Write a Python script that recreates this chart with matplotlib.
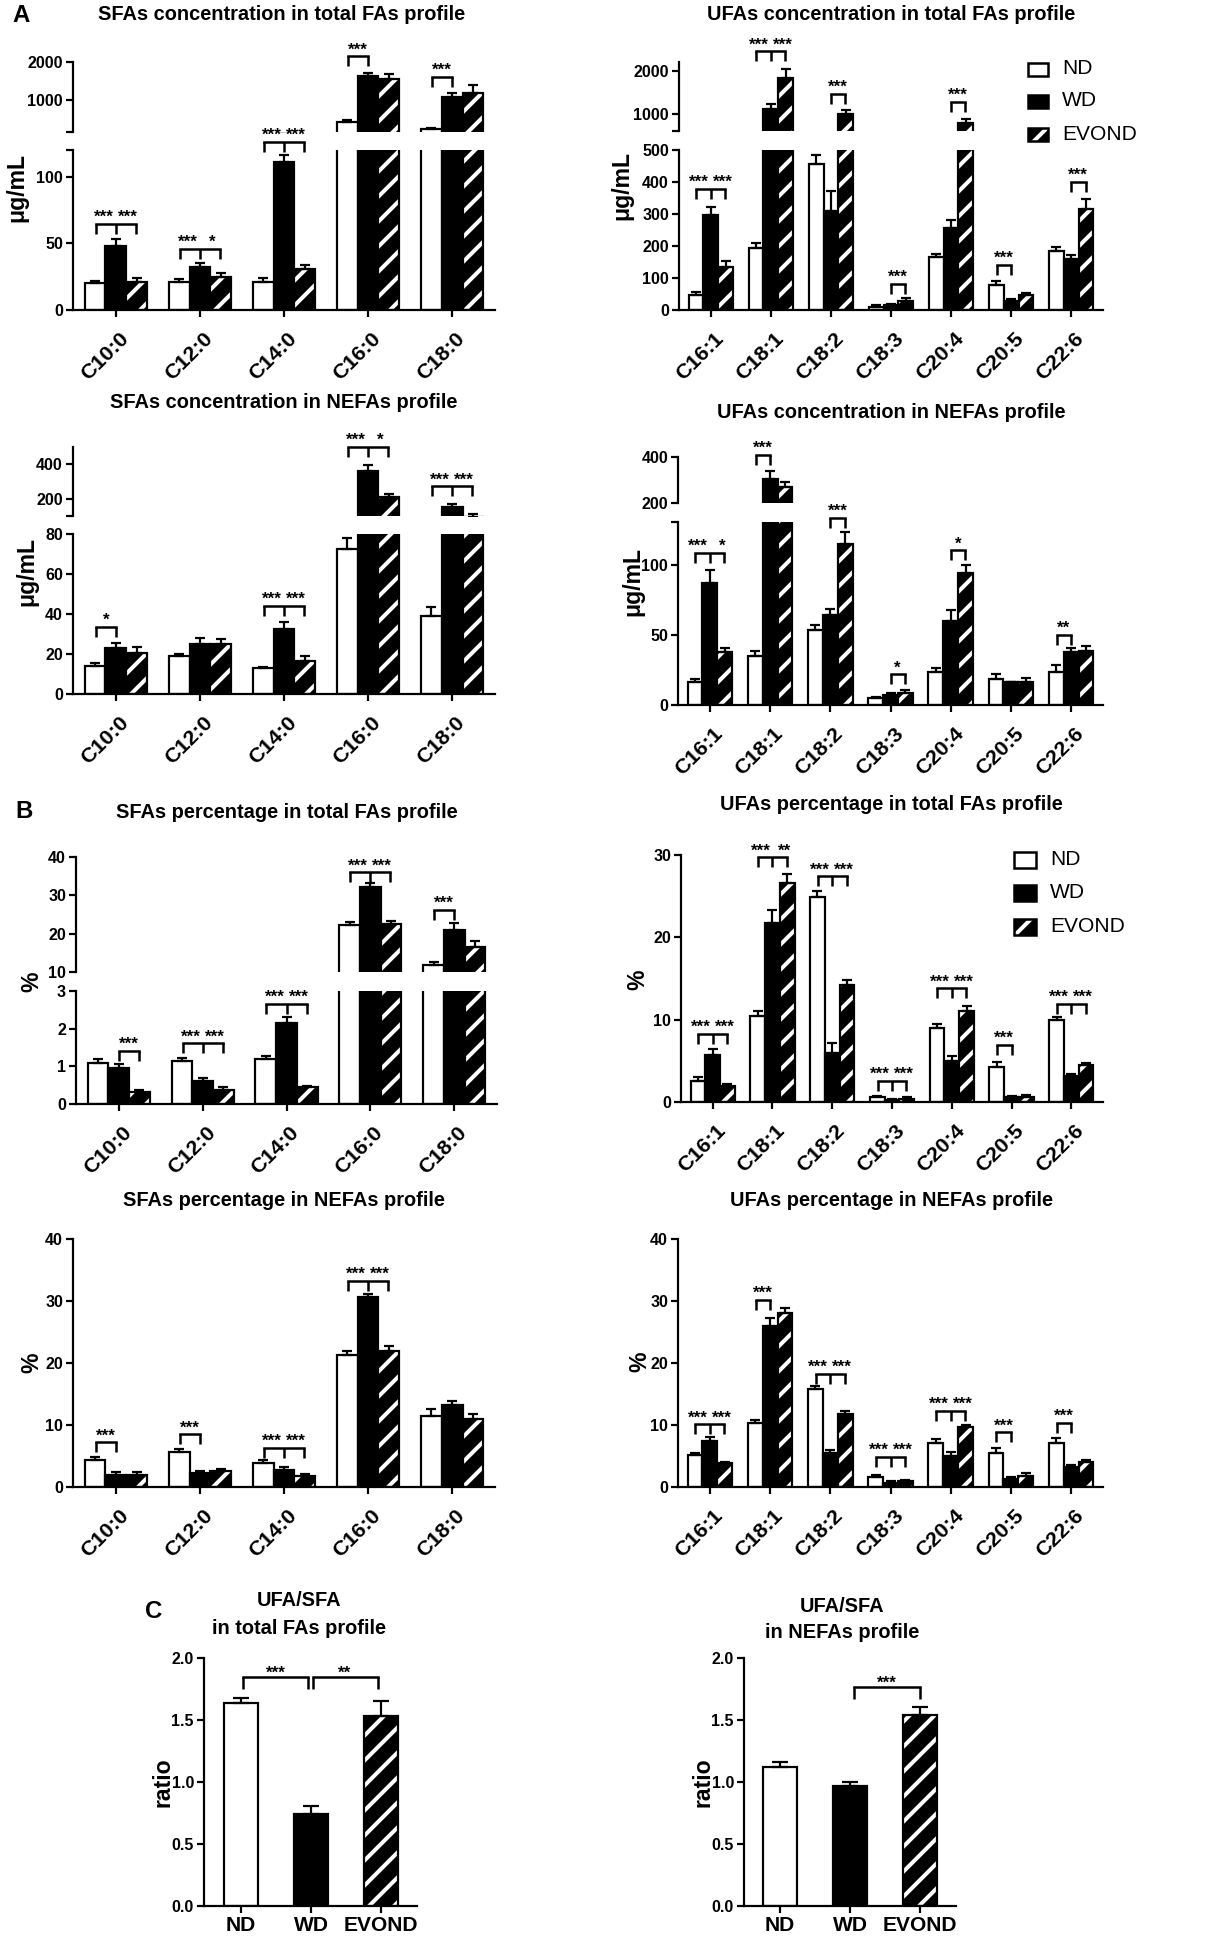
import numpy as np
import matplotlib
matplotlib.use('Agg')
import matplotlib.pyplot as plt
from matplotlib.patches import Rectangle
from matplotlib.transforms import ScaledTranslation

W, H, DPI = 1230, 1943, 75


def P(px):
    # size in pixels -> points at this dpi
    return px * 72.0 / DPI


plt.rcParams['font.family'] = ['Liberation Sans', 'DejaVu Sans']
plt.rcParams['font.weight'] = 'bold'
plt.rcParams['hatch.linewidth'] = P(4)
plt.rcParams['axes.linewidth'] = P(2.2)

groups = ['ND', 'WD', 'EVOND']
sfa = ['C10:0', 'C12:0', 'C14:0', 'C16:0', 'C18:0']
ufa = ['C16:1', 'C18:1', 'C18:2', 'C18:3', 'C20:4', 'C20:5', 'C22:6']

# (A) concentration, ug/mL ; rows = fatty acid, columns = ND, WD, EVOND
sfa_tot_mean = [[20, 48, 21], [21, 32, 25], [21, 111, 31], [425, 1619, 1549], [248, 1071, 1195]]
sfa_tot_sem = [[2, 5, 3], [2, 3.5, 3], [3, 5, 3], [62, 89, 141], [26, 106, 203]]
ufa_tot_mean = [[47, 297, 135], [193, 1100, 1831], [455, 309, 985], [10, 15, 29],
                [165, 255, 777], [78, 28, 47], [184, 158, 315]]
ufa_tot_sem = [[10, 24, 18], [15, 115, 207], [29, 63, 92], [5, 4, 9],
               [10, 26, 108], [14, 6, 5], [12, 14, 31]]
sfa_nefa_mean = [[14, 23, 20.7], [19, 24.8, 24.8], [12.8, 32.3, 16.5], [72.3, 361, 210], [39, 152, 95]]
sfa_nefa_sem = [[1.3, 2.7, 2.6], [1, 3, 2.7], [0.9, 3.5, 2.5], [5.9, 33, 19], [4.3, 19, 15]]
ufa_nefa_mean = [[16.7, 87.4, 37.6], [35, 304, 268], [54, 64.3, 115], [4.8, 7.1, 8.8],
                 [23.3, 60.2, 94.5], [18.6, 16.2, 16.7], [23.8, 38, 38.8]]
ufa_nefa_sem = [[1.9, 9.5, 3.4], [3.8, 33, 25], [3.6, 4.7, 9], [1.2, 1.2, 1.9],
                [2.9, 7.7, 6], [3.4, 0.5, 2.8], [4.8, 2.5, 3.6]]

# (B) percentage
sfa_tot_pct = [[1.08, 0.95, 0.32], [1.14, 0.60, 0.38], [1.19, 2.16, 0.45], [22.2, 32.2, 22.4], [11.9, 21.0, 16.4]]
sfa_tot_pct_sem = [[0.11, 0.11, 0.04], [0.09, 0.09, 0.07], [0.09, 0.14, 0.04], [0.8, 1.0, 0.9], [0.6, 1.9, 1.8]]
ufa_tot_pct = [[2.6, 5.7, 1.9], [10.4, 21.8, 26.6], [24.9, 6.0, 14.2], [0.57, 0.28, 0.4],
               [9.0, 5.0, 11.1], [4.2, 0.6, 0.6], [9.9, 3.1, 4.5]]
ufa_tot_pct_sem = [[0.4, 0.7, 0.3], [0.7, 1.5, 1.1], [0.7, 1.2, 0.6], [0.2, 0.12, 0.17],
                   [0.5, 0.6, 0.6], [0.6, 0.17, 0.2], [0.4, 0.3, 0.2]]
sfa_nefa_pct = [[4.4, 2.0, 2.0], [5.6, 2.25, 2.6], [3.9, 2.8, 1.8], [21.3, 30.6, 22.0], [11.5, 13.2, 11.0]]
sfa_nefa_pct_sem = [[0.5, 0.4, 0.4], [0.6, 0.35, 0.35], [0.5, 0.4, 0.35], [0.7, 0.5, 0.8], [1.1, 0.7, 0.8]]
ufa_nefa_pct = [[5.1, 7.4, 3.9], [10.3, 26.0, 28.1], [15.8, 5.5, 11.8], [1.55, 0.65, 0.9],
                [7.1, 5.0, 9.6], [5.5, 1.3, 1.8], [7.1, 3.2, 4.0]]
ufa_nefa_pct_sem = [[0.4, 0.65, 0.2], [0.5, 1.2, 0.8], [0.5, 0.4, 0.5], [0.45, 0.25, 0.3],
                    [0.6, 0.6, 0.4], [0.8, 0.3, 0.45], [0.8, 0.4, 0.3]]

# (C) UFA/SFA ratio
ratio_tot = [1.64, 0.743, 1.53]
ratio_tot_sem = [0.04, 0.06, 0.12]
ratio_nefa = [1.117, 0.964, 1.537]
ratio_nefa_sem = [0.045, 0.036, 0.065]

# significance marks: (category, comparison, bracket height, labels, segment)
sig_a1 = [(0, 'both', 64.5, ['***', '***'], 'lo'), (1, 'both', 46, ['***', '*'], 'lo'),
          (2, 'both', 126, ['***', '***'], 'lo'), (3, 'left', 2150, ['***'], 'hi'),
          (4, 'left', 1600, ['***'], 'hi')]
sig_a2 = [(0, 'both', 378, ['***', '***'], 'lo'), (1, 'both', 2446, ['***', '***'], 'hi'),
          (2, 'right', 1461, ['***'], 'hi'), (3, 'right', 81, ['***'], 'lo'),
          (4, 'right', 1269, ['***'], 'hi'), (5, 'left', 141, ['***'], 'lo'),
          (6, 'right', 401, ['***'], 'lo')]
sig_a3 = [(0, 'left', 33.7, ['*'], 'lo'), (2, 'both', 44, ['***', '***'], 'lo'),
          (3, 'both', 501, ['***', '*'], 'hi'), (4, 'both', 272, ['***', '***'], 'hi')]
sig_a4 = [(0, 'both', 109, ['***', '*'], 'lo'), (1, 'left', 410, ['***'], 'hi'),
          (2, 'right', 134, ['***'], 'lo'), (3, 'right', 21.9, ['*'], 'lo'),
          (4, 'right', 110.7, ['*'], 'lo'), (6, 'left', 50, ['**'], 'lo')]
sig_b1 = [(0, 'right', 1.42, ['***'], 'lo'), (1, 'both', 1.61, ['***', '***'], 'lo'),
          (2, 'both', 2.66, ['***', '***'], 'lo'), (3, 'both', 36.0, ['***', '***'], 'hi'),
          (4, 'left', 26.3, ['***'], 'hi')]
sig_b2 = [(0, 'both', 8.3, ['***', '***'], 'lo'), (1, 'both', 29.7, ['***', '**'], 'lo'),
          (2, 'both', 27.4, ['***', '***'], 'lo'), (3, 'both', 2.6, ['***', '***'], 'lo'),
          (4, 'both', 13.8, ['***', '***'], 'lo'), (5, 'left', 6.9, ['***'], 'lo'),
          (6, 'both', 11.9, ['***', '***'], 'lo')]
sig_b3 = [(0, 'left', 7.2, ['***'], 'lo'), (1, 'left', 8.5, ['***'], 'lo'),
          (2, 'both', 6.3, ['***', '***'], 'lo'), (3, 'both', 33.3, ['***', '***'], 'lo')]
sig_b4 = [(0, 'both', 10.1, ['***', '***'], 'lo'), (1, 'left', 30.2, ['***'], 'lo'),
          (2, 'both', 18.2, ['***', '***'], 'lo'), (3, 'both', 4.8, ['***', '***'], 'lo'),
          (4, 'both', 12.3, ['***', '***'], 'lo'), (5, 'left', 8.8, ['***'], 'lo'),
          (6, 'left', 10.3, ['***'], 'lo')]

fig = plt.figure(figsize=(W / DPI, H / DPI), dpi=DPI)
BW = 0.247
LW = P(2.2)
STAR = 17


def box(x0, y0, x1, y1):
    return [x0 / W, 1 - y1 / H, (x1 - x0) / W, (y1 - y0) / H]


def ftext(x, y, s, **kw):
    fig.text(x / W, 1 - y / H, s, **kw)


def style(ax, bottom=True):
    ax.spines['top'].set_visible(False)
    ax.spines['right'].set_visible(False)
    ax.set_facecolor('none')
    ax.tick_params(axis='both', direction='out', length=P(7), width=LW,
                   labelsize=P(16), pad=P(3))
    if not bottom:
        ax.spines['bottom'].set_visible(False)
        ax.tick_params(axis='x', bottom=False, labelbottom=False)


def draw_groups(ax, means, sems):
    means = np.array(means, float)
    sems = np.array(sems, float)
    x = np.arange(len(means))
    for g, off in enumerate([-BW, 0, BW]):
        xs = x + off
        if g == 0:
            ax.bar(xs, means[:, g], BW, color='white', edgecolor='black', linewidth=LW)
        elif g == 1:
            ax.bar(xs, means[:, g], BW, color='black', edgecolor='black', linewidth=LW)
        else:
            ax.bar(xs, means[:, g], BW, color='black', edgecolor='white', linewidth=0, hatch='/')
            ax.bar(xs, means[:, g], BW, color='none', edgecolor='black', linewidth=LW)
        ax.errorbar(xs, means[:, g], yerr=[np.zeros(len(xs)), sems[:, g]], fmt='none',
                    ecolor='black', elinewidth=LW, capsize=P(5), capthick=LW)


def per_px(ax):
    y0, y1 = ax.get_ylim()
    return (y1 - y0) / (ax.get_position().height * H)


def per_px_x(ax):
    x0, x1 = ax.get_xlim()
    return (x1 - x0) / (ax.get_position().width * W)


def bracket(ax, xs, x0, x1, y, leg=10, lw=2.5):
    d = per_px(ax)
    ax.plot([x0, x1], [y, y], color='black', lw=P(lw), clip_on=False, solid_capstyle='projecting')
    for xx in xs:
        ax.plot([xx, xx], [y, y - leg * d], color='black', lw=P(lw), clip_on=False,
                solid_capstyle='butt')


def stars(ax, x, y, s, dy=2, fs=STAR):
    ax.text(x, y + dy * per_px(ax), s, ha='center', va='baseline', fontsize=P(fs), clip_on=False)


def add_sig(axes, sig):
    for cat, kind, y, labels, seg in sig:
        ax = axes[seg]
        h = 0.24
        sx = 12 * per_px_x(ax)
        if kind == 'both':
            bracket(ax, [cat - h, cat, cat + h], cat - h, cat + h, y)
            stars(ax, cat - sx, y, labels[0])
            stars(ax, cat + sx, y, labels[1])
        elif kind == 'left':
            bracket(ax, [cat - h, cat], cat - h, cat, y)
            stars(ax, cat - h / 2, y, labels[0])
        else:
            bracket(ax, [cat, cat + h], cat, cat + h, y)
            stars(ax, cat + h / 2, y, labels[0])


def panel(cats, means, sems, lo_box, lo_axis, hi_box=None, hi_axis=None, sig=(), xlim=None):
    axes = {}
    ax = fig.add_axes(box(*lo_box))
    style(ax)
    draw_groups(ax, means, sems)
    ax.set_xlim(xlim)
    ax.set_ylim(lo_axis[0])
    ax.set_yticks(lo_axis[1])
    ax.set_yticklabels(lo_axis[2])
    ax.set_xticks(np.arange(len(cats)))
    ax.set_xticklabels(cats, rotation=45, ha='right', va='top', rotation_mode='anchor',
                       fontsize=P(21.5))
    ax.tick_params(axis='x', pad=P(12))
    shift = ScaledTranslation(3 / DPI, 0, fig.dpi_scale_trans)
    for t in ax.get_xticklabels():
        t.set_transform(t.get_transform() + shift)
    axes['lo'] = ax
    if hi_box is not None:
        ax2 = fig.add_axes(box(*hi_box))
        style(ax2, bottom=False)
        draw_groups(ax2, means, sems)
        ax2.set_xlim(xlim)
        ax2.set_ylim(hi_axis[0])
        ax2.set_yticks(hi_axis[1])
        ax2.set_yticklabels(hi_axis[2])
        axes['hi'] = ax2
    add_sig(axes, sig)
    return axes


xs_sfa = (-0.51, 4.51)
xs_ufa = (-0.53, 6.53)

# A
panel(sfa, sfa_tot_mean, sfa_tot_sem, (73, 150, 495, 310),
      ((0, 120), [0, 50, 100, 120], ['0', '50', '100', '']),
      (73, 62, 495, 132), ((160, 2000), [160, 1000, 2000], ['', '1000', '2000']),
      sig_a1, xs_sfa)
panel(ufa, ufa_tot_mean, ufa_tot_sem, (679, 150, 1103, 310),
      ((0, 500), [0, 100, 200, 300, 400, 500], ['0', '100', '200', '300', '400', '500']),
      (679, 62, 1103, 131), ((600, 2200), [600, 1000, 2000], ['', '1000', '2000']),
      sig_a2, xs_ufa)
panel(sfa, sfa_nefa_mean, sfa_nefa_sem, (73, 534, 495, 694),
      ((0, 80), [0, 20, 40, 60, 80], ['0', '20', '40', '60', '80']),
      (73, 447, 495, 516), ((100, 500), [100, 200, 400], ['', '200', '400']),
      sig_a3, xs_sfa)
panel(ufa, ufa_nefa_mean, ufa_nefa_sem, (678, 522, 1103, 705),
      ((0, 131), [0, 50, 100, 131], ['0', '50', '100', '']),
      (678, 457, 1103, 503), ((200, 400), [200, 400], ['200', '400']),
      sig_a4, xs_ufa)

# B
panel(sfa, sfa_tot_pct, sfa_tot_pct_sem, (76, 991, 497, 1104),
      ((0, 3), [0, 1, 2, 3], ['0', '1', '2', '3']),
      (76, 857, 497, 972), ((10, 40), [10, 20, 30, 40], ['10', '20', '30', '40']),
      sig_b1, xs_sfa)
panel(ufa, ufa_tot_pct, ufa_tot_pct_sem, (681, 855, 1103, 1102),
      ((0, 30), [0, 10, 20, 30], ['0', '10', '20', '30']), sig=sig_b2, xlim=xs_ufa)
panel(sfa, sfa_nefa_pct, sfa_nefa_pct_sem, (73, 1239, 495, 1487),
      ((0, 40), [0, 10, 20, 30, 40], ['0', '10', '20', '30', '40']), sig=sig_b3, xlim=xs_sfa)
panel(ufa, ufa_nefa_pct, ufa_nefa_pct_sem, (678, 1239, 1103, 1487),
      ((0, 40), [0, 10, 20, 30, 40], ['0', '10', '20', '30', '40']), sig=sig_b4, xlim=xs_ufa)


# C
def ratio_panel(bx, vals, errs, xlim):
    ax = fig.add_axes(box(*bx))
    style(ax)
    x = np.arange(3)
    bw = 0.48
    ax.bar(x[0], vals[0], bw, color='white', edgecolor='black', linewidth=LW)
    ax.bar(x[1], vals[1], bw, color='black', edgecolor='black', linewidth=LW)
    ax.bar(x[2], vals[2], bw, color='black', edgecolor='white', linewidth=0, hatch='/')
    ax.bar(x[2], vals[2], bw, color='none', edgecolor='black', linewidth=LW)
    ax.errorbar(x, vals, yerr=[np.zeros(3), errs], fmt='none', ecolor='black',
                elinewidth=LW, capsize=P(8), capthick=LW)
    ax.set_xlim(xlim)
    ax.set_ylim(0, 2.0)
    ax.set_yticks([0, 0.5, 1.0, 1.5, 2.0])
    ax.set_yticklabels(['0.0', '0.5', '1.0', '1.5', '2.0'])
    ax.set_xticks(x)
    ax.set_xticklabels(groups, fontsize=P(21))
    ax.tick_params(axis='x', pad=P(3))
    return ax


axc1 = ratio_panel((204, 1658, 417, 1906), ratio_tot, ratio_tot_sem, (-0.53, 2.51))
bracket(axc1, [0.03, 0.96], 0.03, 0.96, 1.85, leg=12)
bracket(axc1, [1.02, 1.95], 1.02, 1.95, 1.85, leg=12)
stars(axc1, 0.5, 1.85, '***', dy=-1)
stars(axc1, 1.48, 1.85, '**', dy=-1)
axc2 = ratio_panel((744, 1658, 956, 1906), ratio_nefa, ratio_nefa_sem, (-0.51, 2.51))
bracket(axc2, [1.06, 2.0], 1.06, 2.0, 1.77, leg=12)
stars(axc2, 1.53, 1.77, '***', dy=-1)

# titles and labels
tfs = P(20)
ftext(282, 15, 'SFAs concentration in total FAs profile', ha='center', va='center', fontsize=tfs)
ftext(891, 15, 'UFAs concentration in total FAs profile', ha='center', va='center', fontsize=tfs)
ftext(284, 403, 'SFAs concentration in NEFAs profile', ha='center', va='center', fontsize=tfs)
ftext(891, 412, 'UFAs concentration in NEFAs profile', ha='center', va='center', fontsize=tfs)
ftext(287, 813, 'SFAs percentage in total FAs profile', ha='center', va='center', fontsize=tfs)
ftext(891, 805, 'UFAs percentage in total FAs profile', ha='center', va='center', fontsize=tfs)
ftext(284, 1201, 'SFAs percentage in NEFAs profile', ha='center', va='center', fontsize=tfs)
ftext(891, 1201, 'UFAs percentage in NEFAs profile', ha='center', va='center', fontsize=tfs)
ftext(299, 1601, 'UFA/SFA', ha='center', va='center', fontsize=tfs)
ftext(299, 1629, 'in total FAs profile', ha='center', va='center', fontsize=tfs)
ftext(842, 1606, 'UFA/SFA', ha='center', va='center', fontsize=tfs)
ftext(842, 1633, 'in NEFAs profile', ha='center', va='center', fontsize=tfs)

for lab, x, y in [('A', 21, 16), ('B', 24, 812), ('C', 154, 1612)]:
    ftext(x, y, lab, ha='center', va='center', fontsize=P(24))

for lab, x, y in [('\u03bcg/mL', 17, 187), ('\u03bcg/mL', 622, 185), ('\u03bcg/mL', 27, 571),
                  ('\u03bcg/mL', 633, 581), ('%', 32, 982), ('%', 638, 980), ('%', 32, 1363),
                  ('%', 640, 1362), ('ratio', 163, 1782), ('ratio', 703, 1782)]:
    ftext(x, y, lab, ha='center', va='center', rotation=90, fontsize=P(23))


# legends
def legend(x, ys, w, h):
    for g, y in zip(groups, ys):
        r = box(x, y - h / 2, x + w, y + h / 2)
        if g == 'ND':
            fig.add_artist(Rectangle((r[0], r[1]), r[2], r[3], transform=fig.transFigure,
                                     facecolor='white', edgecolor='black', linewidth=P(2.5)))
        elif g == 'WD':
            fig.add_artist(Rectangle((r[0], r[1]), r[2], r[3], transform=fig.transFigure,
                                     facecolor='black', edgecolor='black', linewidth=P(2.5)))
        else:
            fig.add_artist(Rectangle((r[0], r[1]), r[2], r[3], transform=fig.transFigure,
                                     facecolor='black', edgecolor='white', linewidth=0, hatch='/'))
            fig.add_artist(Rectangle((r[0], r[1]), r[2], r[3], transform=fig.transFigure,
                                     facecolor='none', edgecolor='black', linewidth=P(2.5)))
        ftext(x + w + 14, y, g, ha='left', va='center', fontsize=P(21), fontweight='normal')


legend(1028, [69, 101, 135], 20, 13)
legend(1014, [860, 893, 927], 22, 15)

fig.savefig('out.png', dpi=DPI)
